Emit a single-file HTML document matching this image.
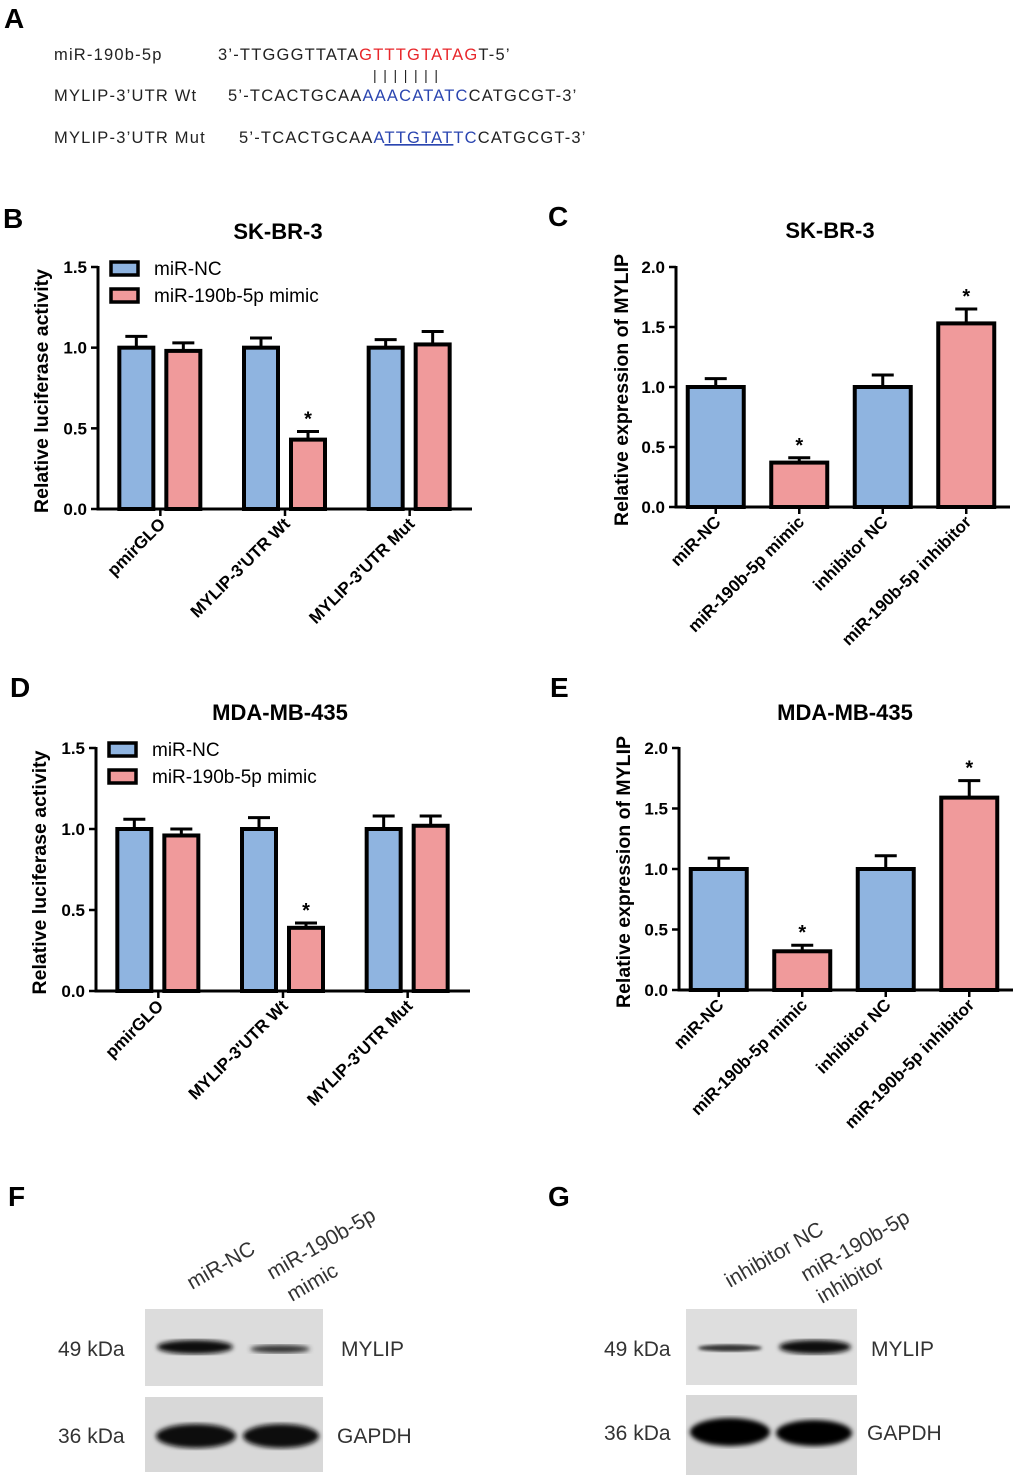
<!DOCTYPE html>
<html><head><meta charset="utf-8"><style>
html,body{margin:0;padding:0;background:#fff}
svg{display:block;font-family:"Liberation Sans",sans-serif}
</style></head><body>
<svg id="fig" width="1020" height="1480" viewBox="0 0 1020 1480" xmlns="http://www.w3.org/2000/svg">
<defs>
<filter id="blur2"><feGaussianBlur stdDeviation="2.5"/></filter>
<filter id="blur1"><feGaussianBlur stdDeviation="1.5"/></filter>
</defs>
<g>
<text x="4" y="28" font-size="28" font-weight="bold">A</text>
<g font-size="16.5" fill="#222" letter-spacing="1.2">
<text x="54" y="60">miR-190b-5p</text>
<text x="218" y="60">3’-TTGGGTTATA<tspan fill="#e8262a">GTTTGTATAG</tspan>T-5’</text>
<text x="373" y="80" font-size="14" letter-spacing="6.6">|||||||</text>
<text x="54" y="101">MYLIP-3’UTR Wt</text>
<text x="228" y="101">5’-TCACTGCAA<tspan fill="#2a45b0">AAACATATC</tspan>CATGCGT-3’</text>
<text x="54" y="143">MYLIP-3’UTR Mut</text>
<text x="239" y="143">5’-TCACTGCAA<tspan fill="#2a45b0">A<tspan text-decoration="underline">TTGTAT</tspan>TC</tspan>CATGCGT-3’</text>
</g>
</g>
<g id="charts"></g>
<g>
<text x="8" y="1206" font-size="28" font-weight="bold">F</text>
<text transform="translate(192,1290) rotate(-30)" font-size="21" fill="#333">miR-NC</text>
<text transform="translate(272,1280) rotate(-30)" font-size="21" fill="#333">miR-190b-5p</text>
<text transform="translate(292,1302) rotate(-30)" font-size="21" fill="#333">mimic</text>
<rect x="145" y="1309" width="178" height="77" fill="#dcdcdc"/>
<ellipse cx="195" cy="1347" rx="38" ry="7" fill="#111" filter="url(#blur2)"/>
<ellipse cx="280" cy="1349" rx="30" ry="4" fill="#333" filter="url(#blur2)"/>
<rect x="145" y="1397" width="178" height="75" fill="#d8d8d8"/>
<ellipse cx="196" cy="1436" rx="40" ry="12" fill="#080808" filter="url(#blur2)"/>
<ellipse cx="281" cy="1436" rx="38" ry="12" fill="#080808" filter="url(#blur2)"/>
<text x="58" y="1356" font-size="21" fill="#333">49 kDa</text>
<text x="58" y="1443" font-size="21" fill="#333">36 kDa</text>
<text x="341" y="1356" font-size="21" fill="#333">MYLIP</text>
<text x="337" y="1443" font-size="21" fill="#333">GAPDH</text>
</g>
<g>
<text x="548" y="1206" font-size="28" font-weight="bold">G</text>
<text transform="translate(730,1288) rotate(-30)" font-size="21" fill="#333">inhibitor NC</text>
<text transform="translate(806,1282) rotate(-30)" font-size="21" fill="#333">miR-190b-5p</text>
<text transform="translate(822,1304) rotate(-30)" font-size="21" fill="#333">inhibitor</text>
<rect x="686" y="1309" width="171" height="76" fill="#dedede"/>
<ellipse cx="730" cy="1348" rx="32" ry="3.5" fill="#333" filter="url(#blur1)"/>
<ellipse cx="815" cy="1347" rx="36" ry="7" fill="#111" filter="url(#blur2)"/>
<rect x="686" y="1395" width="171" height="80" fill="#d8d8d8"/>
<ellipse cx="730" cy="1432" rx="40" ry="14" fill="#060606" filter="url(#blur2)"/>
<ellipse cx="814" cy="1433" rx="38" ry="13" fill="#060606" filter="url(#blur2)"/>
<text x="604" y="1356" font-size="21" fill="#333">49 kDa</text>
<text x="604" y="1440" font-size="21" fill="#333">36 kDa</text>
<text x="871" y="1356" font-size="21" fill="#333">MYLIP</text>
<text x="867" y="1440" font-size="21" fill="#333">GAPDH</text>
</g>
</svg>
<script>
const NS="http://www.w3.org/2000/svg";
const BLUE="#8fb4e0", PINK="#f09a9b";
// Panel B data
const bCategories=["pmirGLO","MYLIP-3'UTR Wt","MYLIP-3'UTR Mut"];
const bNC=[1.0,1.0,1.0];
const bNCerr=[0.07,0.06,0.05];
const bMimic=[0.98,0.43,1.02];
const bMimicErr=[0.05,0.05,0.08];
// Panel D data
const dCategories=["pmirGLO","MYLIP-3'UTR Wt","MYLIP-3'UTR Mut"];
const dNC=[1.0,1.0,1.0];
const dNCerr=[0.06,0.07,0.08];
const dMimic=[0.96,0.39,1.02];
const dMimicErr=[0.04,0.03,0.06];
const lucTicks=["0.0","0.5","1.0","1.5"];
// Panel C data
const cCategories=["miR-NC","miR-190b-5p mimic","inhibitor NC","miR-190b-5p inhibitor"];
const cValues=[1.0,0.37,1.0,1.53];
const cErr=[0.07,0.04,0.1,0.12];
// Panel E data
const eCategories=["miR-NC","miR-190b-5p mimic","inhibitor NC","miR-190b-5p inhibitor"];
const eValues=[1.0,0.32,1.0,1.59];
const eErr=[0.09,0.05,0.11,0.14];
const exprTicks=["0.0","0.5","1.0","1.5","2.0"];
const starsLuc=[false,true,false];
const starsExpr=[false,true,false,true];

const root=document.getElementById('charts');
function mk(tag,attrs,parent){const e=document.createElementNS(NS,tag);for(const k in attrs)e.setAttribute(k,attrs[k]);(parent||root).appendChild(e);return e;}
function txt(parent,x,y,s,attrs){const t=mk('text',Object.assign({x:x,y:y},attrs||{}),parent);t.textContent=s;return t;}

function axes(g,o){
  const ymax=parseFloat(o.ticks[o.ticks.length-1]);
  const ys=v=>o.y0-(v/ymax)*(o.y0-o.ytop);
  mk('line',{x1:o.x0,y1:o.ytop-1,x2:o.x0,y2:o.y0+1.5,stroke:'#000','stroke-width':3},g);
  mk('line',{x1:o.x0-1.5,y1:o.y0,x2:o.xend,y2:o.y0,stroke:'#000','stroke-width':3},g);
  o.ticks.forEach(t=>{const y=ys(parseFloat(t));
    mk('line',{x1:o.x0-7,y1:y,x2:o.x0,y2:y,stroke:'#000','stroke-width':2.5},g);
    const tl=txt(g,o.x0-11,y+6,t,{'font-size':17,'font-weight':'bold','text-anchor':'end'});
    
    
  });
  const yt=txt(g,0,0,o.ylabel,{'font-size':19.5,'font-weight':'bold','text-anchor':'middle',transform:`translate(${o.ylx},${(o.ytop+o.y0)/2+3}) rotate(-90)`});
  
  
  const tt=txt(g,o.titleX,o.titleY,o.title,{'font-size':22,'font-weight':'bold','text-anchor':'middle'});
  
  
  const pl=txt(g,o.plx,o.ply,o.panel,{'font-size':28,'font-weight':'bold'});
  
  
  return ys;
}
function bar(g,x,w,v,err,color,ys,y0,star){
  const yt=ys(v), ye=ys(v+err);
  mk('line',{x1:x+w/2,y1:yt,x2:x+w/2,y2:ye,stroke:'#000','stroke-width':3},g);
  mk('line',{x1:x+w/2-11,y1:ye,x2:x+w/2+11,y2:ye,stroke:'#000','stroke-width':3},g);
  const r=mk('rect',{x:x,y:yt,width:w,height:y0-yt,fill:color,stroke:'#000','stroke-width':4},g);
  
  
  if(star){const s=txt(g,x+w/2,ye-6,'*',{'font-size':20,'text-anchor':'middle','font-weight':'bold'});
    
    }
}
function xlabel(g,x,y,s){
  const t=txt(g,0,0,s,{'font-size':17,'font-weight':'bold','text-anchor':'end',transform:`translate(${x},${y}) rotate(-45)`});
  
  
}
function lucChart(o,cats,nc,ncE,mm,mmE){
  const g=mk('g',{});
  
  
  const ys=axes(g,o);
  const step=(o.xend-o.x0)/cats.length;
  cats.forEach((c,i)=>{const cx=o.x0+step*(i+0.5);
    mk('line',{x1:cx,y1:o.y0,x2:cx,y2:o.y0+7,stroke:'#000','stroke-width':2.5},g);
    bar(g,cx-41,34,nc[i],ncE[i],BLUE,ys,o.y0,false);
    bar(g,cx+6,34,mm[i],mmE[i],PINK,ys,o.y0,starsLuc[i]);
    xlabel(g,cx+6,o.y0+16,c);
  });
  const items=[["miR-NC",BLUE],["miR-190b-5p mimic",PINK]];
  items.forEach((it,i)=>{const y=o.ytop+i*27;
    const r=mk('rect',{x:o.x0+13,y:y-5,width:27,height:13,fill:it[1],stroke:'#000','stroke-width':3.5},g);
    
    
    const t=txt(g,o.x0+56,y+8,it[0],{'font-size':19});
    
    
  });
}
function exprChart(o,cats,vals,errs){
  const g=mk('g',{});
  
  
  const ys=axes(g,o);
  const step=(o.xend-o.x0)/cats.length;
  cats.forEach((c,i)=>{const cx=o.x0+step*(i+0.5)+o.shift;
    mk('line',{x1:cx,y1:o.y0,x2:cx,y2:o.y0+7,stroke:'#000','stroke-width':2.5},g);
    bar(g,cx-28,56,vals[i],errs[i],i%2?PINK:BLUE,ys,o.y0,starsExpr[i]);
    xlabel(g,cx+6,o.y0+16,c);
  });
}
lucChart({name:'chart-b-luciferase-skbr3',x0:98,xend:472,y0:509,ytop:267,ticks:lucTicks,ylabel:'Relative luciferase activity',ylx:48,title:'SK-BR-3',titleX:278,titleY:239,panel:'B',plx:3,ply:228},bCategories,bNC,bNCerr,bMimic,bMimicErr);
lucChart({name:'chart-d-luciferase-mdamb435',x0:96,xend:470,y0:991,ytop:748,ticks:lucTicks,ylabel:'Relative luciferase activity',ylx:46,title:'MDA-MB-435',titleX:280,titleY:720,panel:'D',plx:10,ply:697},dCategories,dNC,dNCerr,dMimic,dMimicErr);
exprChart({name:'chart-c-expression-skbr3',x0:676,xend:1010,y0:507,ytop:267,ticks:exprTicks,ylabel:'Relative expression of MYLIP',ylx:628,title:'SK-BR-3',titleX:830,titleY:238,panel:'C',plx:548,ply:226,shift:-2},cCategories,cValues,cErr);
exprChart({name:'chart-e-expression-mdamb435',x0:679,xend:1013,y0:990,ytop:748,ticks:exprTicks,ylabel:'Relative expression of MYLIP',ylx:630,title:'MDA-MB-435',titleX:845,titleY:720,panel:'E',plx:550,ply:697,shift:-2},eCategories,eValues,eErr);
</script>
</body></html>
